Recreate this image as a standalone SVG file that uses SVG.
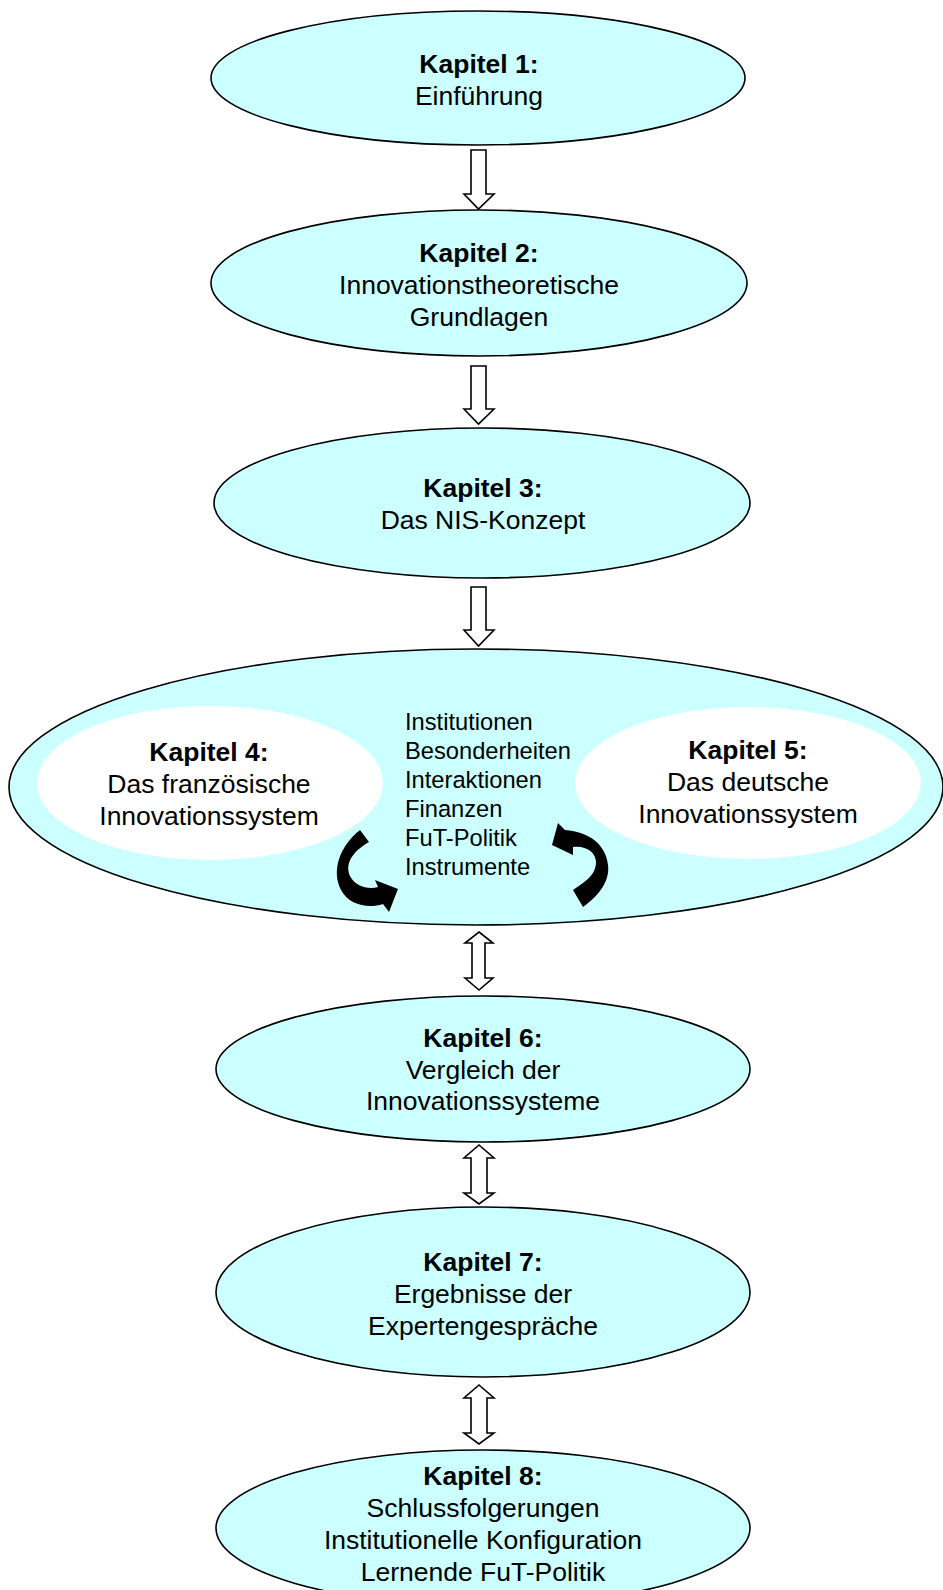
<svg xmlns="http://www.w3.org/2000/svg" width="943" height="1590" viewBox="0 0 943 1590">
  <style>
    .node { fill: #CCFFFF; stroke: #000; stroke-width: 1.6; }
    .inner { fill: #FFFFFF; stroke: none; }
    .t { font-family: "Liberation Sans", Arial, sans-serif; font-size: 26.5px; fill: #000; text-anchor: middle; }
    .b { font-weight: bold; }
    .list { font-family: "Liberation Sans", Arial, sans-serif; font-size: 23.7px; fill: #000; }
    .blk { fill: #FFFFFF; stroke: #000; stroke-width: 1.6; stroke-linejoin: miter; }
    .curl { fill: #000; stroke: none; }
  </style>

  <rect width="943" height="1590" fill="#FFFFFF"/>

  <g id="kapitel1">
    <ellipse class="node" cx="478" cy="78" rx="267" ry="67"/>
    <text class="t b" x="479" y="73">Kapitel 1:</text>
    <text class="t" x="479" y="105">Einführung</text>
  </g>

  <g id="kapitel2">
    <ellipse class="node" cx="479" cy="283" rx="268" ry="73"/>
    <text class="t b" x="479" y="262">Kapitel 2:</text>
    <text class="t" x="479" y="294">Innovationstheoretische</text>
    <text class="t" x="479" y="326">Grundlagen</text>
  </g>

  <g id="kapitel3">
    <ellipse class="node" cx="482" cy="503" rx="268" ry="75"/>
    <text class="t b" x="483" y="497">Kapitel 3:</text>
    <text class="t" x="483" y="529">Das NIS-Konzept</text>
  </g>

  <g id="nis-vergleich">
    <ellipse class="node" cx="476" cy="787" rx="467" ry="138"/>
    <g id="kapitel4">
      <ellipse class="inner" cx="210" cy="783" rx="173" ry="77"/>
      <text class="t b" x="209" y="761">Kapitel 4:</text>
      <text class="t" x="209" y="793">Das französische</text>
      <text class="t" x="209" y="825">Innovationssystem</text>
    </g>
    <g id="kapitel5">
      <ellipse class="inner" cx="748" cy="783" rx="173" ry="76"/>
      <text class="t b" x="748" y="759">Kapitel 5:</text>
      <text class="t" x="748" y="791">Das deutsche</text>
      <text class="t" x="748" y="823">Innovationssystem</text>
    </g>
    <g id="dimensionen">
      <text class="list" x="405" y="730">Institutionen</text>
      <text class="list" x="405" y="759">Besonderheiten</text>
      <text class="list" x="405" y="788">Interaktionen</text>
      <text class="list" x="405" y="817">Finanzen</text>
      <text class="list" x="405" y="846">FuT-Politik</text>
      <text class="list" x="405" y="875">Instrumente</text>
    </g>
  </g>

  <g id="kapitel6">
    <ellipse class="node" cx="483" cy="1069" rx="267" ry="73"/>
    <text class="t b" x="483" y="1047">Kapitel 6:</text>
    <text class="t" x="483" y="1079">Vergleich der</text>
    <text class="t" x="483" y="1110">Innovationssysteme</text>
  </g>

  <g id="kapitel7">
    <ellipse class="node" cx="483" cy="1292" rx="267" ry="85"/>
    <text class="t b" x="483" y="1271">Kapitel 7:</text>
    <text class="t" x="483" y="1303">Ergebnisse der</text>
    <text class="t" x="483" y="1335">Expertengespräche</text>
  </g>

  <g id="kapitel8">
    <ellipse class="node" cx="483" cy="1528" rx="267" ry="78"/>
    <text class="t b" x="483" y="1485">Kapitel 8:</text>
    <text class="t" x="483" y="1517">Schlussfolgerungen</text>
    <text class="t" x="483" y="1549">Institutionelle Konfiguration</text>
    <text class="t" x="483" y="1581">Lernende FuT-Politik</text>
  </g>

  <g id="connectors">
    <!-- hollow block arrows, one way -->
    <polygon class="blk" points="471,150 486,150 486,194 494,194 478.5,209 464,194 471,194"/>
    <polygon class="blk" points="471,366 486,366 486,409 494,409 478.5,424 464,409 471,409"/>
    <polygon class="blk" points="471,587 486,587 486,630 494,630 478.5,646 464,630 471,630"/>
    <!-- hollow block arrows, both ways -->
    <polygon class="blk" points="479,932 493,943 485,943 485,978 493,978 479,990 465,978 472,978 472,943 465,943"/>
    <polygon class="blk" points="479,1145 494,1158 487,1158 487,1193 494,1193 479,1204 464,1193 471,1193 471,1158 464,1158"/>
    <polygon class="blk" points="479,1385 494,1398 487,1398 487,1433 494,1433 479,1444 464,1433 471,1433 471,1398 464,1398"/>
    <!-- curved exchange arrows inside the NIS ellipse -->
    <path class="curl" d="M 360 830 C 340 846, 331 870, 341 890 C 349 905, 368 909, 383 904 L 389 912 L 398 889 L 375 880 L 378 887 C 368 890, 355 886, 350 876 C 344 862, 355 850, 369 842 Z"/>
    <path class="curl" d="M 558 823 L 552 845 L 573 855 L 573 847 C 585 845, 596 852, 596 862 C 596 875, 585 882, 573 890 L 583 907 C 600 895, 610 880, 608 865 C 606 845, 590 832, 565 830 Z"/>
  </g>
</svg>
